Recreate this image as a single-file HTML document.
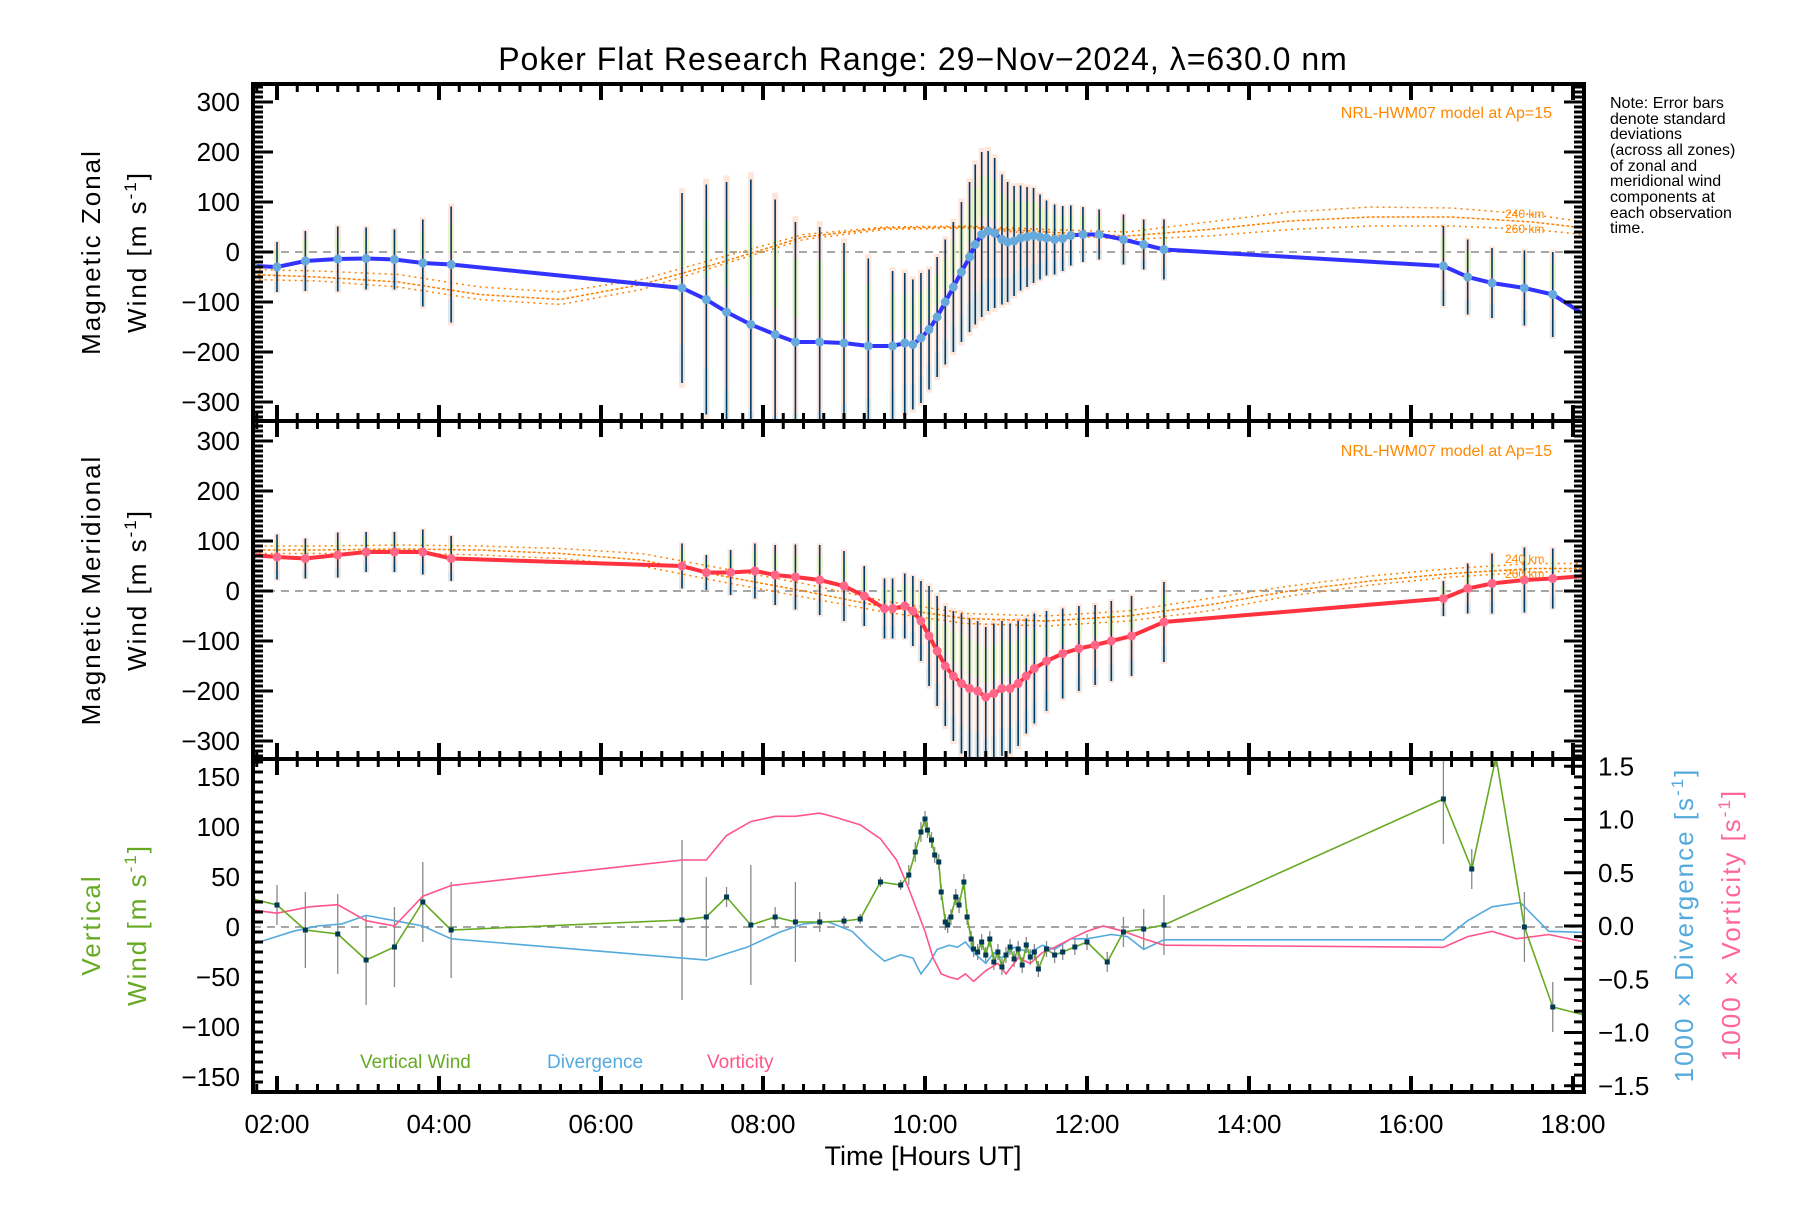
<!DOCTYPE html>
<html><head><meta charset="utf-8"><style>
html,body{margin:0;padding:0;background:#fff;}
svg text{font-family:"Liberation Sans",sans-serif;}
</style></head><body>
<svg id="chart" width="1800" height="1200" xmlns="http://www.w3.org/2000/svg">
<defs>
<clipPath id="c1"><rect x="253" y="84" width="1331" height="337"/></clipPath>
<clipPath id="c2"><rect x="253" y="421" width="1331" height="338"/></clipPath>
<clipPath id="c3"><rect x="253" y="759" width="1331" height="333"/></clipPath>
</defs>
<text x="923" y="70" font-size="32" text-anchor="middle" letter-spacing="1">Poker Flat Research Range: 29−Nov−2024, λ=630.0 nm</text>
<g font-size="16">
<text x="1610" y="108">Note: Error bars</text>
<text x="1610" y="124">denote standard</text>
<text x="1610" y="139">deviations</text>
<text x="1610" y="155">(across all zones)</text>
<text x="1610" y="171">of zonal and</text>
<text x="1610" y="186">meridional wind</text>
<text x="1610" y="202">components at</text>
<text x="1610" y="218">each observation</text>
<text x="1610" y="233">time.</text>
</g>
<g id="g1"></g><g id="g2"></g><g id="g3"></g><g id="axes"></g>
<text x="923" y="1165" font-size="27" text-anchor="middle">Time [Hours UT]</text>
<text transform="translate(100,252) rotate(-90)" font-size="26" text-anchor="middle" letter-spacing="2">Magnetic Zonal</text>
<text transform="translate(146,252) rotate(-90)" font-size="26" text-anchor="middle" letter-spacing="2">Wind [m s<tspan dy="-10" font-size="17">-1</tspan><tspan dy="10">]</tspan></text>
<text transform="translate(100,590) rotate(-90)" font-size="26" text-anchor="middle" letter-spacing="2">Magnetic Meridional</text>
<text transform="translate(146,590) rotate(-90)" font-size="26" text-anchor="middle" letter-spacing="2">Wind [m s<tspan dy="-10" font-size="17">-1</tspan><tspan dy="10">]</tspan></text>
<text transform="translate(100,925) rotate(-90)" font-size="26" text-anchor="middle" letter-spacing="2" fill="#66aa22">Vertical</text>
<text transform="translate(146,925) rotate(-90)" font-size="26" text-anchor="middle" letter-spacing="2" fill="#66aa22">Wind [m s<tspan dy="-10" font-size="17">-1</tspan><tspan dy="10">]</tspan></text>
<text transform="translate(1693,925) rotate(-90)" font-size="26" text-anchor="middle" letter-spacing="2" fill="#55aadd">1000 × Divergence [s<tspan dy="-10" font-size="17">-1</tspan><tspan dy="10">]</tspan></text>
<text transform="translate(1740,925) rotate(-90)" font-size="26" text-anchor="middle" letter-spacing="2" fill="#ff6699">1000 × Vorticity [s<tspan dy="-10" font-size="17">-1</tspan><tspan dy="10">]</tspan></text>
<text x="360" y="1068" font-size="19" fill="#66aa22">Vertical Wind</text>
<text x="547" y="1068" font-size="19" fill="#55aadd">Divergence</text>
<text x="707" y="1068" font-size="19" fill="#ff5588">Vorticity</text>
<text x="1552" y="118" font-size="16" fill="#ff8800" text-anchor="end">NRL-HWM07 model at Ap=15</text>
<text x="1552" y="456" font-size="16" fill="#ff8800" text-anchor="end">NRL-HWM07 model at Ap=15</text>
<text x="1505" y="218" font-size="12" fill="#ff8800">240 km</text>
<text x="1505" y="233" font-size="12" fill="#ff8800">260 km</text>
<text x="1505" y="563" font-size="12" fill="#ff8800">240 km</text>
<text x="1505" y="578" font-size="12" fill="#ff8800">260 km</text>
</svg>
<script>
// ---------- data ----------
const zTime=[1.7,2.0,2.35,2.75,3.1,3.45,3.8,4.15,7.0,7.3,7.55,7.85,8.15,8.4,8.7,9.0,9.3,9.6,9.75,9.85,9.95,10.05,10.15,10.25,10.35,10.45,10.55,10.62,10.7,10.78,10.86,10.95,11.02,11.1,11.18,11.26,11.34,11.42,11.5,11.6,11.7,11.8,11.95,12.15,12.45,12.7,12.95,16.4,16.7,17.0,17.4,17.75,18.14];
const zWind=[-28,-30,-18,-14,-13,-15,-22,-25,-72,-95,-120,-145,-165,-180,-180,-182,-188,-188,-182,-185,-172,-155,-130,-100,-70,-40,-10,15,35,42,38,25,20,22,28,30,33,30,28,25,27,33,35,35,25,15,5,-28,-50,-62,-72,-85,-125];
const zErr=[50,50,60,65,62,60,87,116,190,230,260,290,270,240,230,200,175,150,140,130,130,120,120,125,130,140,150,160,165,160,150,130,120,110,105,100,95,85,75,70,65,60,55,50,50,50,60,80,75,70,75,85,90];
const mTime=[1.7,2.0,2.35,2.75,3.1,3.45,3.8,4.15,7.0,7.3,7.6,7.9,8.15,8.4,8.7,9.0,9.25,9.5,9.6,9.75,9.85,9.95,10.05,10.15,10.25,10.35,10.45,10.55,10.65,10.75,10.85,10.95,11.05,11.15,11.25,11.35,11.5,11.7,11.9,12.1,12.3,12.55,12.95,16.4,16.7,17.0,17.4,17.75,18.14];
const mWind=[72,68,65,72,78,78,78,65,50,37,37,40,32,28,22,10,-10,-35,-35,-30,-40,-60,-90,-120,-150,-170,-185,-195,-200,-212,-205,-195,-195,-185,-170,-155,-140,-125,-115,-108,-100,-90,-62,-15,5,15,22,25,30];
const mErr=[40,45,40,45,40,40,45,45,45,35,45,55,60,65,70,70,60,60,60,65,70,80,100,110,120,130,140,140,140,140,140,135,130,125,115,110,100,90,85,80,80,80,80,35,50,60,65,60,60];
const modelTime=[1.7,2.5,3.5,4.5,5.5,6.5,7.5,8.5,9.5,10.5,11.5,12.5,13.5,14.5,15.5,16.5,17.5,18.14];
const zModelA=[-35,-38,-45,-70,-80,-55,-10,35,50,52,45,40,60,80,90,88,75,60];
const zModelB=[-45,-50,-60,-85,-95,-65,-20,30,48,50,40,32,45,62,70,70,60,48];
const zModelC=[-55,-58,-70,-95,-105,-75,-25,25,45,48,35,25,32,45,52,52,45,35];
const mModelA=[90,90,92,90,85,75,45,15,-20,-45,-50,-40,-15,10,30,45,55,55];
const mModelB=[82,82,84,82,75,62,30,0,-32,-55,-60,-50,-28,0,20,35,45,45];
const mModelC=[75,75,76,72,65,50,18,-12,-42,-65,-70,-60,-40,-10,12,28,38,40];
const vTime=[1.7,2.0,2.35,2.75,3.1,3.45,3.8,4.15,7.0,7.3,7.55,7.85,8.15,8.4,8.7,9.0,9.2,9.45,9.7,9.8,9.88,9.95,10.0,10.03,10.08,10.12,10.17,10.2,10.25,10.28,10.32,10.38,10.42,10.48,10.52,10.57,10.6,10.65,10.7,10.75,10.8,10.85,10.9,10.95,11.0,11.05,11.1,11.15,11.2,11.25,11.3,11.35,11.4,11.5,11.6,11.7,11.85,12.0,12.25,12.45,12.7,12.95,16.4,16.75,17.05,17.4,17.75,18.14];
const vWind=[28,22,-3,-7,-33,-20,25,-3,7,10,30,2,10,5,5,6,8,45,42,52,75,95,108,97,87,72,65,35,5,2,10,30,22,45,10,-12,-22,-25,-15,-28,-12,-35,-25,-40,-28,-20,-32,-22,-38,-18,-30,-25,-42,-22,-28,-25,-20,-15,-35,-5,-2,2,128,58,170,0,-80,-88];
const vErr=[0,20,38,40,45,40,40,48,80,40,10,60,10,40,10,5,5,5,5,10,10,10,8,8,8,8,8,8,8,8,8,8,8,8,8,8,8,8,8,8,8,8,8,8,8,8,8,8,8,8,8,8,8,8,8,8,8,8,10,15,20,30,45,20,10,35,25,0];
const dTime=[1.7,2.2,2.5,2.8,3.1,3.45,3.8,4.15,7.3,7.8,8.2,8.5,8.8,9.1,9.3,9.5,9.7,9.85,9.95,10.05,10.15,10.3,10.4,10.5,10.6,10.75,10.85,10.95,11.1,11.3,11.45,11.6,11.8,12.0,12.3,12.5,12.7,12.95,16.4,16.7,17.0,17.35,17.7,18.14];
const dVal=[-0.17,-0.05,0.0,0.02,0.1,0.05,0.0,-0.12,-0.32,-0.2,-0.06,0.02,0.04,-0.05,-0.2,-0.33,-0.27,-0.3,-0.45,-0.35,-0.22,-0.18,-0.2,-0.15,-0.25,-0.35,-0.25,-0.3,-0.2,-0.25,-0.18,-0.22,-0.12,-0.12,-0.08,-0.1,-0.22,-0.13,-0.13,0.05,0.18,0.22,-0.05,-0.06];
const rTime=[1.7,2.0,2.4,2.75,3.1,3.45,3.8,4.15,7.0,7.3,7.55,7.85,8.15,8.4,8.7,8.9,9.2,9.45,9.65,9.8,9.9,10.0,10.1,10.2,10.3,10.4,10.5,10.6,10.75,10.9,11.0,11.15,11.3,11.45,11.6,11.8,12.0,12.2,12.45,12.7,12.95,16.4,16.7,17.0,17.3,17.7,18.14];
const rVal=[0.15,0.12,0.18,0.2,0.05,0.0,0.28,0.38,0.62,0.62,0.85,0.98,1.03,1.03,1.06,1.02,0.95,0.82,0.62,0.35,0.15,-0.05,-0.3,-0.45,-0.48,-0.5,-0.45,-0.52,-0.42,-0.35,-0.45,-0.3,-0.35,-0.25,-0.2,-0.12,-0.05,0.0,-0.05,-0.12,-0.18,-0.2,-0.1,-0.05,-0.12,-0.08,-0.15];
const xTickLabels=["02:00","04:00","06:00","08:00","10:00","12:00","14:00","16:00","18:00"];
const windTicks=[300,200,100,0,-100,-200,-300];
const vertTicks=[150,100,50,0,-50,-100,-150];
const rightTicks=["1.5","1.0","0.5","0.0","−0.5","−1.0","−1.5"];

// ---------- axes ----------
const L=253,R=1584;
const X=h=>277+(h-2)*81;
const P1={top:84,bot:421,zero:252,k:0.5};
const P2={top:421,bot:759,zero:591,k:0.5};
const P3={top:759,bot:1092,zero:927,k:1.0};
const Y1=v=>P1.zero-v*P1.k, Y2=v=>P2.zero-v*P2.k, Y3=v=>P3.zero-v*P3.k;
const YR=v=>926-v*106.5;
const NS="http://www.w3.org/2000/svg";
function mk(tag,attrs,parent){const e=document.createElementNS(NS,tag);for(const k in attrs)e.setAttribute(k,attrs[k]);parent.appendChild(e);return e;}
function pts(ts,vs,f){return ts.map((t,i)=>X(t).toFixed(1)+","+f(vs[i]).toFixed(1)).join(" ");}
const g1=document.getElementById('g1'),g2=document.getElementById('g2'),g3=document.getElementById('g3'),ax=document.getElementById('axes');
g1.setAttribute('clip-path','url(#c1)');g2.setAttribute('clip-path','url(#c2)');g3.setAttribute('clip-path','url(#c3)');

function windPanel(g,P,Yf,ts,vs,es,mA,mB,mC,lineCol,dotCol,nm){
  const z=mk('line',{x1:L,x2:R,y1:Yf(0),y2:Yf(0),stroke:'#888','stroke-width':1.5,'stroke-dasharray':'8,6'},g);
  
  
  ts.forEach((t,i)=>{
    const c=mk('rect',{x:X(t)-3,y:Yf(vs[i]+es[i]*1.05),width:6,height:es[i]*2.1*P.k,fill:'#ffd0bc',opacity:0.55},g);
    
    
    const c2=mk('rect',{x:X(t)-3,y:Yf(vs[i]+es[i]*0.7),width:6,height:es[i]*0.5*P.k,fill:'#e6f8b8',opacity:0.7},g);
    
    
    const c3=mk('rect',{x:X(t)-3,y:Yf(vs[i]-es[i]*0.6),width:6,height:es[i]*0.4*P.k,fill:'#c8e8f0',opacity:0.5},g);
    
    
  });
  [mA,mB,mC].forEach((m,j)=>{
    const p=mk('polyline',{points:pts(modelTime,m,Yf),fill:'none',stroke:'#ff8000','stroke-width':1.5,'stroke-dasharray':j==1?'3,2':'2,4'},g);
    
    
  });
  ts.forEach((t,i)=>{
    const b=mk('line',{x1:X(t),x2:X(t),y1:Yf(vs[i]+es[i]),y2:Yf(vs[i]-es[i]),stroke:'#003a66','stroke-width':1.6},g);
    
    
  });
  const l=mk('polyline',{points:pts(ts,vs,Yf),fill:'none',stroke:lineCol,'stroke-width':4},g);
  
  
  ts.forEach((t,i)=>{
    const d=mk('circle',{cx:X(t),cy:Yf(vs[i]),r:4.5,fill:dotCol},g);
    
    
  });
}
windPanel(g1,P1,Y1,zTime,zWind,zErr,zModelA,zModelB,zModelC,'#3333ff','#66aadd','zonal');
windPanel(g2,P2,Y2,mTime,mWind,mErr,mModelA,mModelB,mModelC,'#ff3340','#ff6688','meridional');

const z3=mk('line',{x1:L,x2:R,y1:Y3(0),y2:Y3(0),stroke:'#888','stroke-width':1.5,'stroke-dasharray':'8,6'},g3);


vTime.forEach((t,i)=>{if(vErr[i]>0){
  const b=mk('line',{x1:X(t),x2:X(t),y1:Y3(vWind[i]+vErr[i]),y2:Y3(vWind[i]-vErr[i]),stroke:'#888','stroke-width':1.3},g3);
  
  
}});
const dl=mk('polyline',{points:pts(dTime,dVal,YR),fill:'none',stroke:'#55aadd','stroke-width':1.6},g3);


const rl=mk('polyline',{points:pts(rTime,rVal,YR),fill:'none',stroke:'#ff5588','stroke-width':1.6},g3);


const vl=mk('polyline',{points:pts(vTime,vWind,Y3),fill:'none',stroke:'#66aa22','stroke-width':1.6},g3);


vTime.forEach((t,i)=>{
  const d=mk('rect',{x:X(t)-2.5,y:Y3(vWind[i])-2.5,width:5,height:5,fill:'#003a55'},g3);
  
  
});

[P1,P2,P3].forEach((P,pi)=>{
  const f=mk('rect',{x:L,y:P.top,width:R-L,height:P.bot-P.top,fill:'none',stroke:'#000','stroke-width':4},ax);
  
  
  for(let q=0;q*0.25+1.75<=18.14;q++){const h=1.75+q*0.25;const maj=Math.abs(h/2-Math.round(h/2))<1e-6;const len=maj?16:8;
    mk('line',{x1:X(h),x2:X(h),y1:P.bot,y2:P.bot-len,stroke:'#000','stroke-width':maj?4:3},ax);
    mk('line',{x1:X(h),x2:X(h),y1:P.top,y2:P.top+len,stroke:'#000','stroke-width':maj?4:3},ax);}
  const maxv=pi<2?330:165;
  for(let v=-maxv;v<=maxv;v+=10){const Yf=[Y1,Y2,Y3][pi];const yy=Yf(v);if(yy<P.top+1||yy>P.bot-1)continue;const maj=(pi<2?v%100===0:v%50===0);const len=maj?20:10;
    mk('line',{x1:L,x2:L+len,y1:yy,y2:yy,stroke:'#000','stroke-width':3},ax);
    if(pi<2)mk('line',{x1:R,x2:R-len,y1:yy,y2:yy,stroke:'#000','stroke-width':3},ax);}
});
for(let v=-15;v<=15;v++){const yy=YR(v/10);const maj=v%5===0;mk('line',{x1:R,x2:R-(maj?20:10),y1:yy,y2:yy,stroke:'#000','stroke-width':3},ax);}
windTicks.forEach(v=>{
  [Y1,Y2].forEach((Yf,k)=>{const t=mk('text',{x:240,y:Yf(v)+9,'font-size':26,'text-anchor':'end'},ax);t.textContent=(v<0?'−':'')+Math.abs(v);
  
  });
});
vertTicks.forEach(v=>{const t=mk('text',{x:240,y:Y3(v)+9,'font-size':26,'text-anchor':'end'},ax);t.textContent=(v<0?'−':'')+Math.abs(v);
  
  });
rightTicks.forEach((s,i)=>{const v=1.5-i*0.5;const t=mk('text',{x:1598,y:YR(v)+9,'font-size':26},ax);t.textContent=s;
  
  });
xTickLabels.forEach((s,i)=>{const t=mk('text',{x:X(2+i*2),y:1133,'font-size':26,'text-anchor':'middle'},ax);t.textContent=s;
  
  });
</script>
</body></html>
